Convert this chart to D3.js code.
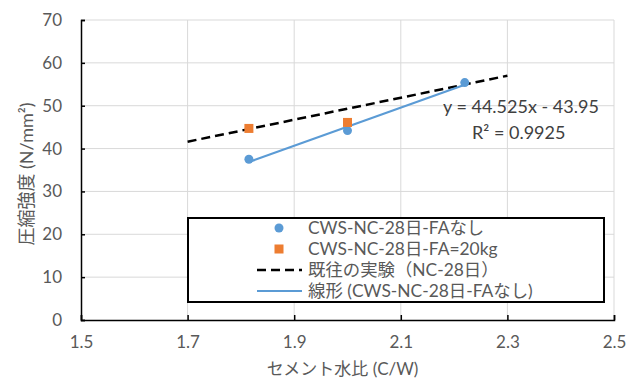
<!DOCTYPE html>
<html>
<head>
<meta charset="utf-8">
<script src="https://cdn.jsdelivr.net/npm/d3@7/dist/d3.min.js"></script>
<style>
  body { margin: 0; background: #fff; }
  text { font-family: Lato, "Noto Sans CJK JP", sans-serif; }
</style>
</head>
<body>
<svg id="chart" width="640" height="379"></svg>
<script>
// data
const xTicks = [1.5, 1.7, 1.9, 2.1, 2.3, 2.5];
const yTicks = [0, 10, 20, 30, 40, 50, 60, 70];
const fanashiX = [1.815, 2.0, 2.22];
const fanashiY = [37.5, 44.2, 55.4];
const fa20X = [1.815, 2.0];
const fa20Y = [44.7, 46.1];
const pastX = [1.7, 2.3];
const pastY = [41.6, 57.0];
const trendSlope = 44.525;
const trendIntercept = -43.95;
const legendLabels = [
  'CWS-NC-28日-FAなし',
  'CWS-NC-28日-FA=20kg',
  '既往の実験（NC-28日）',
  '線形 (CWS-NC-28日-FAなし)'
];

const blue = '#5b9bd5', orange = '#ed7d31', txt = '#595959';
const svg = d3.select('#chart');
const margin = {top: 20, right: 26, bottom: 59, left: 81};
const width = 640 - margin.left - margin.right;
const height = 379 - margin.top - margin.bottom;

const x = d3.scaleLinear().domain([1.5, 2.5]).range([0, width]);
const y = d3.scaleLinear().domain([0, 70]).range([height, 0]);

const g = svg.append('g')
  .attr('transform', `translate(${margin.left},${margin.top})`);

// grid
g.append('g').selectAll('line').data(yTicks.slice(1)).enter().append('line')
  .attr('x1', 0).attr('x2', width)
  .attr('y1', d => y(d)).attr('y2', d => y(d))
  .attr('stroke', '#d9d9d9').attr('stroke-width', 1);
g.append('g').selectAll('line').data(xTicks.slice(1)).enter().append('line')
  .attr('x1', d => x(d)).attr('x2', d => x(d))
  .attr('y1', 0).attr('y2', height)
  .attr('stroke', '#d9d9d9').attr('stroke-width', 1);

// axes
const yAxis = g.append('g')
  .call(d3.axisLeft(y).tickValues(yTicks).tickSize(-4).tickPadding(19).tickFormat(d3.format('d')));
const xAxis = g.append('g')
  .attr('transform', `translate(0,${height})`)
  .call(d3.axisBottom(x).tickValues(xTicks).tickSize(-5).tickPadding(16).tickFormat(d3.format('.1f')));
[yAxis, xAxis].forEach(a => {
  a.select('.domain').attr('stroke', '#000').attr('stroke-width', 1.5);
  a.selectAll('.tick line').attr('stroke', '#000').attr('stroke-width', 1.5);
  a.selectAll('text').attr('fill', txt).style('font-size', '17px');
});

// past experiment dashed line
const line = d3.line().x(d => x(d[0])).y(d => y(d[1]));
g.append('path')
  .datum(d3.zip(pastX, pastY))
  .attr('d', line)
  .attr('fill', 'none').attr('stroke', '#000')
  .attr('stroke-width', 2.5).attr('stroke-dasharray', '9,5');

// linear trendline
const tx = d3.extent(fanashiX);
g.append('path')
  .datum(tx.map(v => [v, trendSlope * v + trendIntercept]))
  .attr('d', line)
  .attr('fill', 'none').attr('stroke', blue).attr('stroke-width', 2.2);

// points
g.append('g').selectAll('circle').data(d3.zip(fanashiX, fanashiY)).enter().append('circle')
  .attr('cx', d => x(d[0])).attr('cy', d => y(d[1])).attr('r', 4.5)
  .attr('fill', blue);
g.append('g').selectAll('rect').data(d3.zip(fa20X, fa20Y)).enter().append('rect')
  .attr('x', d => x(d[0]) - 4.5).attr('y', d => y(d[1]) - 4.5)
  .attr('width', 9).attr('height', 9)
  .attr('fill', orange);

// equation label
const eq = g.append('text').attr('fill', '#404040').style('font-size', '18px');
eq.append('tspan').attr('x', 362).attr('y', 93).text('y = 44.525x - 43.95');
eq.append('tspan').attr('x', 391).attr('y', 119).text('R² = 0.9925');

// legend
const lg = svg.append('g').attr('transform', 'translate(188,218)');
lg.append('rect').attr('width', 416).attr('height', 84)
  .attr('fill', '#fff').attr('stroke', '#000').attr('stroke-width', 2);
const rowY = [10, 31, 52, 73];
lg.append('circle').attr('cx', 91).attr('cy', rowY[0]).attr('r', 4.5).attr('fill', blue);
lg.append('rect').attr('x', 86.5).attr('y', rowY[1] - 4.5).attr('width', 9).attr('height', 9).attr('fill', orange);
lg.append('line').attr('x1', 69).attr('x2', 114).attr('y1', rowY[2]).attr('y2', rowY[2])
  .attr('stroke', '#000').attr('stroke-width', 2.5).attr('stroke-dasharray', '9,5');
lg.append('line').attr('x1', 69).attr('x2', 114).attr('y1', rowY[3]).attr('y2', rowY[3])
  .attr('stroke', blue).attr('stroke-width', 2.2);
lg.selectAll('text.lab').data(legendLabels).enter().append('text')
  .attr('class', 'lab')
  .attr('x', 120).attr('y', (d, i) => rowY[i]).attr('dy', '0.35em')
  .attr('fill', txt).style('font-size', '17.4px')
  .text(d => d);

// axis titles
svg.append('text')
  .attr('x', margin.left + width / 2 - 5).attr('y', 369).attr('dy', '0.35em')
  .attr('text-anchor', 'middle').attr('fill', txt).style('font-size', '17px')
  .text('セメント水比 (C/W)');
svg.append('text')
  .attr('transform', 'translate(27,174) rotate(-90)')
  .attr('dy', '0.35em')
  .attr('text-anchor', 'middle').attr('fill', txt).style('font-size', '18px')
  .text('圧縮強度 (N/mm²)');
</script>
</body>
</html>
